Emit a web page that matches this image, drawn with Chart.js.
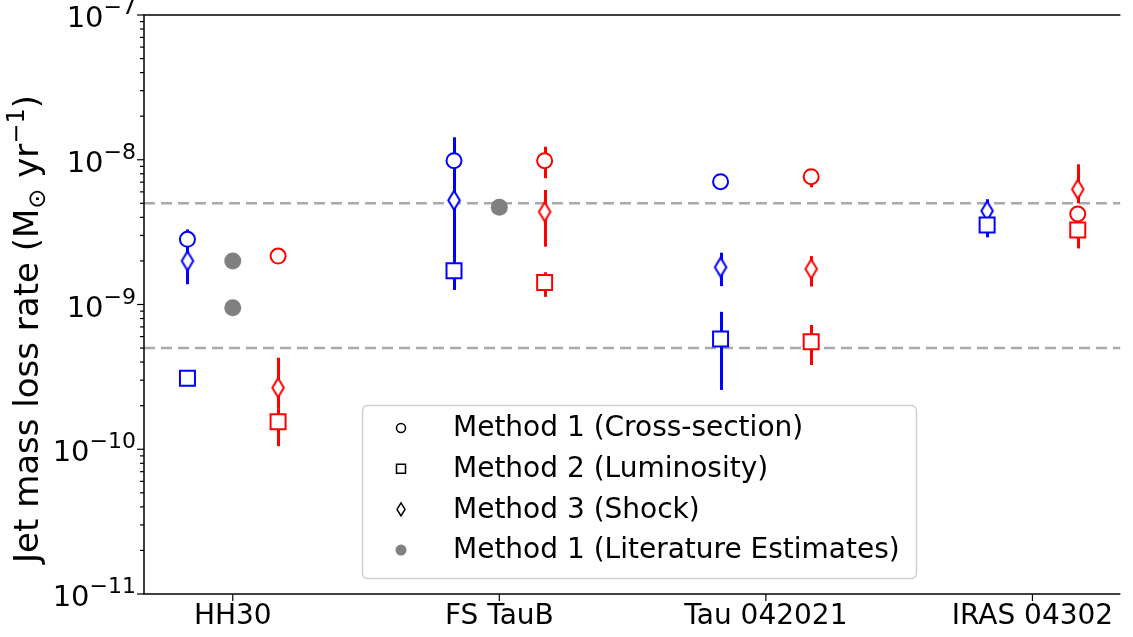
<!DOCTYPE html>
<html>
<head>
<meta charset="utf-8">
<script src="https://cdn.jsdelivr.net/npm/chart.js@4/dist/chart.umd.min.js"></script>
<style>
  html, body { margin: 0; padding: 0; background: #fff; }
</style>
</head>
<body>
<canvas id="c" width="1133" height="637"></canvas>
<script>
// ------ Datos ------
const categories = ['HH30', 'FS TauB', 'Tau 042021', 'IRAS 04302'];
const yTicks = [1e-11, 1e-10, 1e-9, 1e-8, 1e-7];
const refLines = [5e-9, 5e-10];

// lado azul
const blueM1   = [2.82e-9, 9.85e-9, 7.06e-9, null];
const blueM1Lo = [2.4e-9,  8.9e-9,  null,    null];
const blueM1Hi = [3.3e-9,  1.43e-8, null,    null];
const blueM2   = [3.09e-10, 1.71e-9, 5.78e-10, 3.54e-9];
const blueM2Lo = [null,     1.26e-9, 2.57e-10, 2.91e-9];
const blueM2Hi = [null,     2.3e-9,  8.9e-10,  4.0e-9];
const blueM3   = [2.0e-9,  5.25e-9, 1.81e-9, 4.43e-9];
const blueM3Lo = [1.38e-9, 1.9e-9,  1.34e-9, 3.9e-9];
const blueM3Hi = [2.5e-9,  9.0e-9,  2.28e-9, 5.33e-9];

// lado rojo
const redM1   = [2.16e-9, 9.85e-9, 7.64e-9, 4.22e-9];
const redM1Lo = [null,    7.45e-9, 6.45e-9, null];
const redM1Hi = [null,    1.23e-8, 8.2e-9,  null];
const redM2   = [1.55e-10, 1.42e-9, 5.53e-10, 3.27e-9];
const redM2Lo = [1.05e-10, 1.13e-9, 3.82e-10, 2.44e-9];
const redM2Hi = [1.9e-10,  1.67e-9, 7.22e-10, 3.7e-9];
const redM3   = [2.66e-10, 4.37e-9, 1.76e-9, 6.25e-9];
const redM3Lo = [1.9e-10,  2.51e-9, 1.33e-9, 5.0e-9];
const redM3Hi = [4.29e-10, 6.18e-9, 2.16e-9, 9.3e-9];

// literatura (categoria, valor)
const litCat = [0, 0, 1];
const litVal = [2.0e-9, 9.5e-10, 4.69e-9];

const legendLabels = [
  'Method 1 (Cross-section)',
  'Method 2 (Luminosity)',
  'Method 3 (Shock)',
  'Method 1 (Literature Estimates)'
];

// ------ Estilo ------
const BLUE = '#0000ff', RED = '#ff0000', GREY = '#808080';
const X_MIN = -0.333, X_MAX = 3.33;
const OFF = 0.17;
const FONT = '"DejaVu Sans", sans-serif';

const pts = (vals, lo, hi, off) => vals
  .map((v, i) => v == null ? null : { x: i + off, y: v, lo: lo[i], hi: hi[i] })
  .filter(Boolean);

function diamond(color, w, h, lw) {
  const c = document.createElement('canvas');
  c.width = Math.ceil(w + lw * 2); c.height = Math.ceil(h + lw * 2);
  const g = c.getContext('2d');
  const cx = c.width / 2, cy = c.height / 2;
  g.beginPath();
  g.moveTo(cx, cy - h / 2); g.lineTo(cx + w / 2, cy);
  g.lineTo(cx, cy + h / 2); g.lineTo(cx - w / 2, cy);
  g.closePath();
  g.fillStyle = '#fff'; g.fill();
  g.lineWidth = lw; g.strokeStyle = color; g.stroke();
  return c;
}
const dBlue = diamond(BLUE, 11.5, 19, 2);
const dRed = diamond(RED, 11.5, 19, 2);

function markerSet(data, color, style) {
  const base = { type: 'scatter', data, borderColor: color, backgroundColor: '#fff',
    borderWidth: 2, order: 1, isMarker: true };
  if (style === 'circle') return { ...base, pointStyle: 'circle', pointRadius: 7.5 };
  if (style === 'rect') return { ...base, pointStyle: 'rect', pointRadius: 10.6 };
  return { ...base, pointStyle: style, pointRadius: 10 };
}

const datasets = [
  ...refLines.map(v => ({
    type: 'line', data: [{ x: X_MIN, y: v }, { x: X_MAX, y: v }],
    borderColor: '#a9a9a9', borderWidth: 2.5, borderDash: [11, 6],
    pointRadius: 0, order: 5, showLine: true
  })),
  markerSet(pts(blueM2, blueM2Lo, blueM2Hi, -OFF), BLUE, 'rect'),
  markerSet(pts(blueM3, blueM3Lo, blueM3Hi, -OFF), BLUE, dBlue),
  markerSet(pts(blueM1, blueM1Lo, blueM1Hi, -OFF), BLUE, 'circle'),
  markerSet(pts(redM2, redM2Lo, redM2Hi, OFF), RED, 'rect'),
  markerSet(pts(redM3, redM3Lo, redM3Hi, OFF), RED, dRed),
  markerSet(pts(redM1, redM1Lo, redM1Hi, OFF), RED, 'circle'),
  { type: 'scatter', data: litVal.map((v, i) => ({ x: litCat[i], y: v })),
    pointStyle: 'circle', pointRadius: 8.5, borderWidth: 0,
    backgroundColor: GREY, borderColor: GREY, order: 1 }
];

// ------ Plugins ------
const errorBars = {
  id: 'errorBars',
  beforeDatasetsDraw(chart) { chart.$errDone = false; },
  beforeDatasetDraw(chart, args) {
    const ds = chart.data.datasets[args.index];
    if (chart.$errDone || !ds.isMarker) return;
    chart.$errDone = true;
    const { ctx, scales: { x, y } } = chart;
    ctx.save();
    ctx.lineWidth = 3;
    chart.data.datasets.forEach(d => {
      if (!d.isMarker) return;
      ctx.strokeStyle = d.borderColor;
      d.data.forEach(p => {
        if (p.lo == null || p.hi == null) return;
        const px = Math.round(x.getPixelForValue(p.x)) + 0.5;
        ctx.beginPath();
        ctx.moveTo(px, y.getPixelForValue(p.lo));
        ctx.lineTo(px, y.getPixelForValue(p.hi));
        ctx.stroke();
      });
    });
    ctx.restore();
  }
};

const axesDeco = {
  id: 'axesDeco',
  afterDraw(chart) {
    const { ctx, chartArea: a, scales: { x, y } } = chart;
    ctx.save();
    ctx.strokeStyle = '#000';
    ctx.fillStyle = '#000';
    // spines
    ctx.lineWidth = 1.5;
    ctx.beginPath();
    ctx.moveTo(a.right, a.top); ctx.lineTo(a.left, a.top);
    ctx.lineTo(a.left, a.bottom); ctx.lineTo(a.right, a.bottom);
    ctx.stroke();

    // ticks y (mayores y menores)
    ctx.lineWidth = 1.2;
    for (let e = -11; e <= -7; e++) {
      for (let k = 1; k <= 9; k++) {
        if (e === -7 && k > 1) break;
        const py = y.getPixelForValue(k * Math.pow(10, e));
        const len = k === 1 ? 7 : 4;
        ctx.beginPath(); ctx.moveTo(a.left - len, py); ctx.lineTo(a.left, py); ctx.stroke();
      }
    }
    // etiquetas y
    yTicks.forEach(v => {
      const e = Math.round(Math.log10(v));
      const py = y.getPixelForValue(v);
      const sup = '\u2212' + Math.abs(e);
      ctx.font = '22px ' + FONT;
      const sw = ctx.measureText(sup).width;
      ctx.font = '29px ' + FONT;
      const bw = ctx.measureText('10').width;
      const right = 136;
      ctx.textBaseline = 'alphabetic';
      ctx.textAlign = 'left';
      ctx.fillText('10', right - sw - bw, py + 12);
      ctx.font = '22px ' + FONT;
      ctx.fillText(sup, right - sw, py - 1);
    });

    // ticks x
    categories.forEach((c, i) => {
      const px = x.getPixelForValue(i);
      ctx.beginPath(); ctx.moveTo(px, a.bottom); ctx.lineTo(px, a.bottom + 7); ctx.stroke();
      ctx.font = '28px ' + FONT;
      ctx.textAlign = 'center';
      ctx.textBaseline = 'alphabetic';
      ctx.fillText(c, px, a.bottom + 30);
    });

    // titulo eje y
    const parts = [
      { t: 'Jet mass loss rate (M', s: 34, dy: 0 },
      { t: '\u2299', s: 24, dy: 7 },
      { t: ' yr', s: 34, dy: 0 },
      { t: '\u22121', s: 24, dy: -14 },
      { t: ')', s: 34, dy: 0 }
    ];
    let total = 0;
    parts.forEach(p => { ctx.font = p.s + 'px ' + FONT; p.w = ctx.measureText(p.t).width; total += p.w; });
    ctx.translate(38, 329);
    ctx.rotate(-Math.PI / 2);
    let lx = -total / 2;
    ctx.textAlign = 'left';
    parts.forEach(p => {
      ctx.font = p.s + 'px ' + FONT;
      ctx.fillText(p.t, lx, p.dy);
      lx += p.w;
    });
    ctx.restore();

    // leyenda
    ctx.save();
    const L = { x: 362, y: 405, w: 554, h: 173 };
    ctx.beginPath();
    ctx.roundRect(L.x + 0.5, L.y + 0.5, L.w, L.h, 5);
    ctx.fillStyle = 'rgba(255,255,255,0.85)';
    ctx.fill();
    ctx.strokeStyle = '#d0d0d0';
    ctx.lineWidth = 1.5;
    ctx.stroke();
    legendLabels.forEach((lab, i) => {
      const cy = 428 + i * 40.7, mx = 401;
      ctx.lineWidth = 1.5;
      ctx.strokeStyle = '#000';
      ctx.fillStyle = '#fff';
      ctx.beginPath();
      if (i === 0) { ctx.arc(mx, cy, 4.5, 0, Math.PI * 2); ctx.fill(); ctx.stroke(); }
      if (i === 1) { ctx.rect(mx - 4.5, cy - 4.5, 9, 9); ctx.fill(); ctx.stroke(); }
      if (i === 2) {
        ctx.moveTo(mx, cy - 6.5); ctx.lineTo(mx + 4, cy); ctx.lineTo(mx, cy + 6.5); ctx.lineTo(mx - 4, cy);
        ctx.closePath(); ctx.fill(); ctx.stroke();
      }
      if (i === 3) { ctx.fillStyle = GREY; ctx.arc(mx, cy, 5.5, 0, Math.PI * 2); ctx.fill(); }
      ctx.fillStyle = '#000';
      ctx.font = '28px ' + FONT;
      ctx.textAlign = 'left';
      ctx.textBaseline = 'middle';
      ctx.fillText(lab, 453, cy + 1);
    });
    ctx.restore();
  }
};

// ------ Chart.js ------
const chart = new Chart(document.getElementById('c'), {
  type: 'scatter',
  data: { datasets },
  options: {
    responsive: false,
    animation: false,
    events: [],
    layout: { padding: { left: 144, top: 15, right: 0, bottom: 43 } },
    plugins: { legend: { display: false }, tooltip: { enabled: false } },
    scales: {
      x: { type: 'linear', min: X_MIN, max: X_MAX, display: false },
      y: { type: 'logarithmic', min: 1e-11, max: 1e-7, display: false }
    }
  },
  plugins: [errorBars, axesDeco]
});
</script>
</body>
</html>
